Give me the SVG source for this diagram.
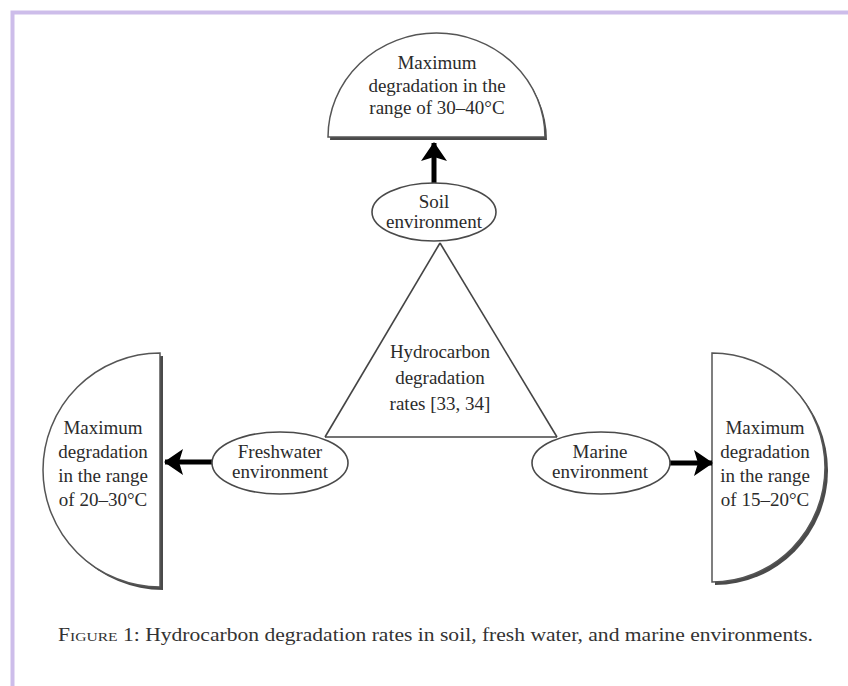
<svg xmlns="http://www.w3.org/2000/svg" width="848" height="686" viewBox="0 0 848 686">
<defs>
<style>
.t{font-family:"Liberation Serif","Times New Roman",serif;font-size:19px;fill:#2b2b2b;text-anchor:middle}
.cap{font-family:"Liberation Serif","Times New Roman",serif;font-size:18px;fill:#333}
.shape{fill:#fff;stroke:#555;stroke-width:1.5}
.shadow{fill:#4a4a4a}
.ell{fill:#fff;stroke:#4a4a4a;stroke-width:1.6}
.edge{stroke:#444;stroke-width:1.6;fill:none}
.arrow{stroke:#000;stroke-width:5;fill:none}
</style>
<marker id="ah" markerUnits="userSpaceOnUse" markerWidth="20" markerHeight="28" viewBox="0 0 20 28" refX="18" refY="14" orient="auto">
<path d="M0,1 L19,14 L0,27 L4,14 Z" fill="#000"/>
</marker>
</defs>
<rect width="848" height="686" fill="#fff"/>
<path d="M12.5,686 V12.5 H848" fill="none" stroke="#cdbdea" stroke-width="4"/>

<g id="node-top-dome">
<path class="shadow" d="M330,140 A108.5,104 0 0 1 547,140 Z"/>
<path class="shape" d="M328,137 A108.5,104 0 0 1 545,137 Z"/>
<text class="t" x="437" y="69">Maximum</text>
<text class="t" x="437" y="92">degradation in the</text>
<text class="t" x="437" y="114">range of 30–40°C</text>
</g>

<g id="node-left-disc">
<path class="shadow" d="M163,356 A117,117 0 0 0 163,590 Z"/>
<path class="shape" d="M160,353 A117,117 0 0 0 160,587 Z"/>
<text class="t" x="103" y="434">Maximum</text>
<text class="t" x="103" y="458">degradation</text>
<text class="t" x="103" y="482">in the range</text>
<text class="t" x="103" y="506">of 20–30°C</text>
</g>

<g id="node-right-disc">
<path class="shadow" d="M715,356 A113,114.5 0 0 1 715,585 Z"/>
<path class="shape" d="M712,353 A113,114.5 0 0 1 712,582 Z"/>
<text class="t" x="765" y="434">Maximum</text>
<text class="t" x="765" y="458">degradation</text>
<text class="t" x="765" y="482">in the range</text>
<text class="t" x="765" y="506">of 15–20°C</text>
</g>

<g id="connectors">
<line class="edge" x1="440" y1="243" x2="325" y2="437"/>
<line class="edge" x1="440" y1="243" x2="557" y2="437"/>
<line class="edge" x1="325" y1="437" x2="557" y2="437" stroke="#777" stroke-width="2.5"/>
<line class="arrow" x1="434" y1="184" x2="434" y2="143" marker-end="url(#ah)"/>
<line class="arrow" x1="212" y1="462" x2="165" y2="462" marker-end="url(#ah)"/>
<line class="arrow" x1="670" y1="463" x2="712" y2="463" marker-end="url(#ah)"/>
</g>

<g id="node-soil">
<ellipse class="ell" cx="434" cy="212" rx="62" ry="29"/>
<text class="t" x="434" y="208">Soil</text>
<text class="t" x="434" y="228">environment</text>
</g>

<g id="node-triangle-label">
<text class="t" x="440" y="358">Hydrocarbon</text>
<text class="t" x="440" y="384">degradation</text>
<text class="t" x="440" y="410">rates [33, 34]</text>
</g>

<g id="node-freshwater">
<ellipse class="ell" cx="280" cy="463" rx="68" ry="31"/>
<text class="t" x="280" y="458">Freshwater</text>
<text class="t" x="280" y="478">environment</text>
</g>

<g id="node-marine">
<ellipse class="ell" cx="601" cy="463" rx="69" ry="31"/>
<text class="t" x="600" y="458">Marine</text>
<text class="t" x="600" y="478">environment</text>
</g>

<text class="cap" x="58" y="641" textLength="755" lengthAdjust="spacingAndGlyphs"><tspan font-variant="small-caps">Figure</tspan> 1: Hydrocarbon degradation rates in soil, fresh water, and marine environments.</text>
</svg>
